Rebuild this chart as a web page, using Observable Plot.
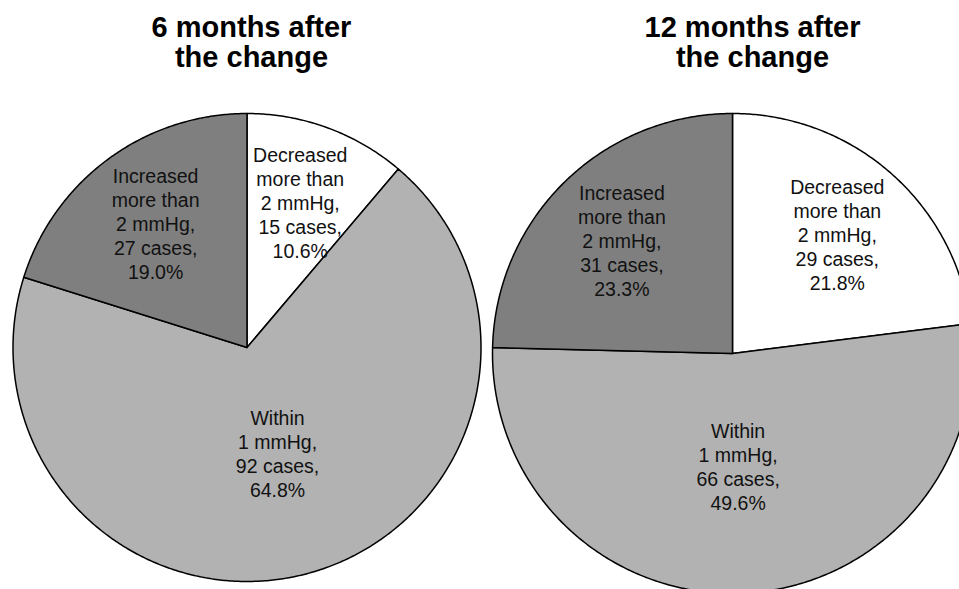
<!DOCTYPE html>
<html>
<head>
<meta charset="utf-8">
<script src="https://cdn.jsdelivr.net/npm/d3@7"></script>
<script src="https://cdn.jsdelivr.net/npm/@observablehq/plot@0.6"></script>
<style>
  html, body { margin: 0; padding: 0; background: #fff; overflow: hidden; }
  #chart svg { display: block; }
</style>
</head>
<body>
<div id="chart"></div>
<script>
// ---- data ----
const categories = ["Decreased more than 2 mmHg", "Within 1 mmHg", "Increased more than 2 mmHg"];
const categoryLines = [["Decreased", "more than", "2 mmHg,"], ["Within", "1 mmHg,"], ["Increased", "more than", "2 mmHg,"]];
const periods = ["6 months after\nthe change", "12 months after\nthe change"];
const cases6 = [15, 92, 27];
const percent6 = [10.6, 64.8, 19.0];
const cases12 = [29, 66, 31];
const percent12 = [21.8, 49.6, 23.3];

// ---- layout / style ----
const W = 959, H = 589;
const sliceColors = ["#ffffff", "#b2b2b2", "#7f7f7f"];
const font = "'Liberation Sans', Arial, Helvetica, sans-serif";
const pies = [
  {period: periods[0], cases: cases6, percent: percent6, cx: 246.5, cy: 347, r: 234, titleX: 251},
  {period: periods[1], cases: cases12, percent: percent12, cx: 732, cy: 353, r: 240, titleX: 752}
];
const titleY = 42;

const slicePoints = [];
const labelRows = [];
const titleRows = [];

pies.forEach((p, pi) => {
  const rows = categories.map((c, i) => ({i, category: c, cases: p.cases[i], percent: p.percent[i]}));
  const total = d3.sum(rows, d => d.cases);
  const arcs = d3.pie().sort(null).value(d => d.cases).startAngle(0).endAngle(2 * Math.PI)(rows);
  arcs.forEach(a => {
    const key = pi + "-" + a.data.i;
    const fill = sliceColors[a.data.i];
    slicePoints.push({key, x: p.cx, y: p.cy, fill});
    const n = Math.max(2, Math.ceil((a.endAngle - a.startAngle) / (Math.PI / 360)));
    for (let k = 0; k <= n; k++) {
      const t = a.startAngle + (a.endAngle - a.startAngle) * k / n;
      slicePoints.push({key, x: p.cx + p.r * Math.sin(t), y: p.cy - p.r * Math.cos(t), fill});
    }
    slicePoints.push({key, x: p.cx, y: p.cy, fill});
    const mid = (a.startAngle + a.endAngle) / 2;
    const share = a.data.cases / total;
    const rr = p.r * (share < 0.3 ? 0.66 : 0.47);
    labelRows.push({
      x: p.cx + rr * Math.sin(mid),
      y: p.cy - rr * Math.cos(mid),
      text: [...categoryLines[a.data.i], a.data.cases + " cases,", a.data.percent.toFixed(1) + "%"].join("\n")
    });
  });
  titleRows.push({x: p.titleX, y: titleY, text: p.period});
});

const chart = Plot.plot({
  width: W,
  height: H,
  margin: 0,
  axis: null,
  x: {type: "identity"},
  y: {type: "identity"},
  color: {type: "identity"},
  style: {fontFamily: font, background: "#fff"},
  marks: [
    Plot.line(slicePoints, {
      x: "x", y: "y", z: "key", fill: "fill",
      stroke: "#000", strokeWidth: 1.5, strokeLinejoin: "round", curve: "linear"
    }),
    Plot.text(labelRows, {
      x: "x", y: "y", text: "text",
      fontSize: 19.5, lineHeight: 1.23, fill: "#111", fontFamily: font
    }),
    Plot.text(titleRows, {
      x: "x", y: "y", text: "text",
      fontSize: 29, fontWeight: "bold", lineHeight: 1.04, fill: "#000", fontFamily: font
    })
  ]
});
document.getElementById("chart").appendChild(chart);
</script>
</body>
</html>
